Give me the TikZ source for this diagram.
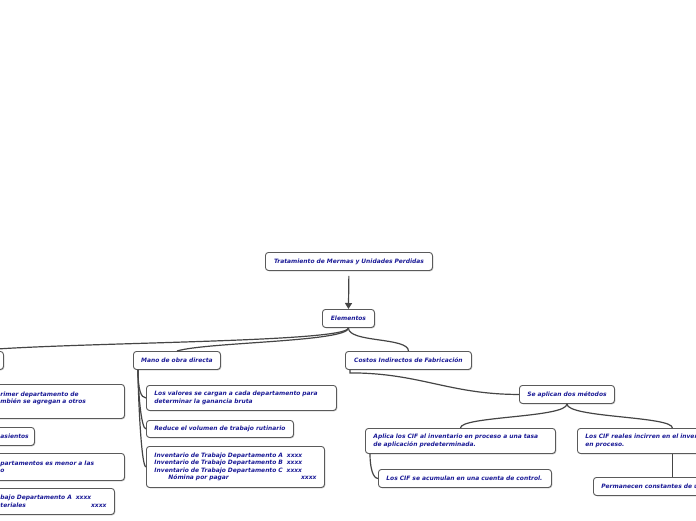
\documentclass[tikz,border=0pt]{standalone}
\usepackage{fontspec}
\usetikzlibrary{calc, arrows.meta, shadows}
\newfontfamily\mapafont{DejaVu Sans}
\usepackage{xcolor}
\definecolor{azul}{HTML}{1A1A96}
\definecolor{borde}{HTML}{5A5A5A}
\definecolor{linea}{HTML}{454545}
\newcommand{\alfin}{\hskip0pt plus1fill\relax}

\tikzset{
	tema/.style={draw=borde, line width=0.9pt, fill=white, rounded corners=3pt, text=azul,
			font=\mapafont\bfseries\itshape\fontsize{5.95}{7.5}\selectfont,
			inner xsep=8pt, inner ysep=2pt, minimum height=18pt, anchor=north west,
			drop shadow={shadow xshift=0.8pt, shadow yshift=-0.8pt, fill=black, opacity=0.25}},
	centro/.style={tema, align=center, inner xsep=6pt},
	izq/.style={tema, align=left},
	rama/.style={draw=linea, line width=1.2pt},
}

\begin{document}
\begin{tikzpicture}[x=1pt, y=-1pt]
	\useasboundingbox (0, 0) rectangle (696, 520);
	\clip (0, 0) rectangle (696, 520);

	\node[centro, text width=155pt] (raiz) at (265, 252) {Tratamiento de Mermas y Unidades Perdidas};
	\node[centro, text width=40pt] (elem) at (322, 309) {Elementos};

	\node[centro, text width=51pt] (ramaizq) at (-60, 351) {};
	\node[centro, text width=75pt] (mano) at (133, 351) {Mano de obra directa};
	\node[centro, text width=114pt] (cif) at (345, 351) {Costos Indirectos de Fabricación};

	% lado izquierdo, cortado por el borde
	\node[izq, text width=116pt, minimum height=34pt] (c1) at (-8, 384) {rimer departamento de\\mbién se agregan a otros\\\mbox{}};
	\node[izq, text width=26pt] (c2) at (-8, 427) {asientos};
	\node[izq, text width=116pt, minimum height=27pt] (c3) at (-8, 453) {partamentos es menor a las\\o};
	\node[izq, text width=106pt, minimum height=26pt] (c4) at (-8, 488) {bajo Departamento A\ \ xxxx\\teriales\alfin xxxx};

	% mano de obra
	\node[izq, text width=174pt, minimum height=25pt] (m1) at (146, 385) {Los valores se cargan a cada departamento para\\determinar la ganancia bruta};
	\node[izq, text width=131pt, minimum height=17pt] (m2) at (146, 420) {Reduce el volumen de trabajo rutinario};
	\node[izq, text width=162pt, minimum height=41pt] (m3) at (146, 446) {Inventario de Trabajo Departamento A\ \ xxxx\\Inventario de Trabajo Departamento B\ \ xxxx\\Inventario de Trabajo Departamento C\ \ xxxx\\\hspace*{14pt}Nómina por pagar\alfin xxxx};

	% costos indirectos
	\node[centro, text width=83pt] (se) at (519, 385) {Se aplican dos métodos};
	\node[izq, text width=174pt, minimum height=25pt] (aplica) at (365, 428) {Aplica los CIF al inventario en proceso a una tasa\\de aplicación predeterminada.};
	\node[izq, text width=174pt, minimum height=25pt] (reales) at (577, 428) {Los CIF reales incirren en el inventario\\en proceso.};
	\node[izq, text width=157pt] (acum) at (378, 469) {Los CIF se acumulan en una cuenta de control.};
	\node[izq, text width=142pt] (perm) at (593, 477) {Permanecen constantes de u};

	\draw[rama, -{Triangle[length=6pt, width=7pt]}, shorten <=5pt] (raiz.south) -- (elem.north);

	\draw[rama] (elem.south) .. controls +(0, 15) and +(88, -9) .. (ramaizq.north);
	\draw[rama] (elem.south) .. controls +(0, 14) and +(30, -9) .. (mano.north);
	\draw[rama] (elem.south) .. controls +(0, 15) and +(0, -14) .. (cif.north);

	\coordinate (io) at ($(ramaizq.south west) + (5, 0)$);
	\foreach \h in {c1, c2, c3, c4}
		\draw[rama] (io) .. controls +(0, 20) and +(-5, 0) .. (\h.west);

	\coordinate (mo) at ($(mano.south west) + (5, 0)$);
	\foreach \h in {m1, m2, m3}
		\draw[rama] (mo) .. controls +(0, 20) and +(-5, 0) .. (\h.west);

	\coordinate (co) at ($(cif.south west) + (5, 0)$);
	\draw[rama] (co) -- ++(0, 3) .. controls +(70, 0) and +(-70, 0) .. (se.west);

	\draw[rama] (se.south) .. controls +(0, 14) and +(0, -12) .. (aplica.north);
	\draw[rama] (se.south) .. controls +(0, 14) and +(0, -12) .. (reales.north);

	\coordinate (ao) at ($(aplica.south west) + (5, 0)$);
	\draw[rama] (ao) .. controls +(0, 14) and +(-5, 0) .. (acum.west);
	\draw[rama] (reales.south) -- (perm.north);
\end{tikzpicture}
\end{document}
